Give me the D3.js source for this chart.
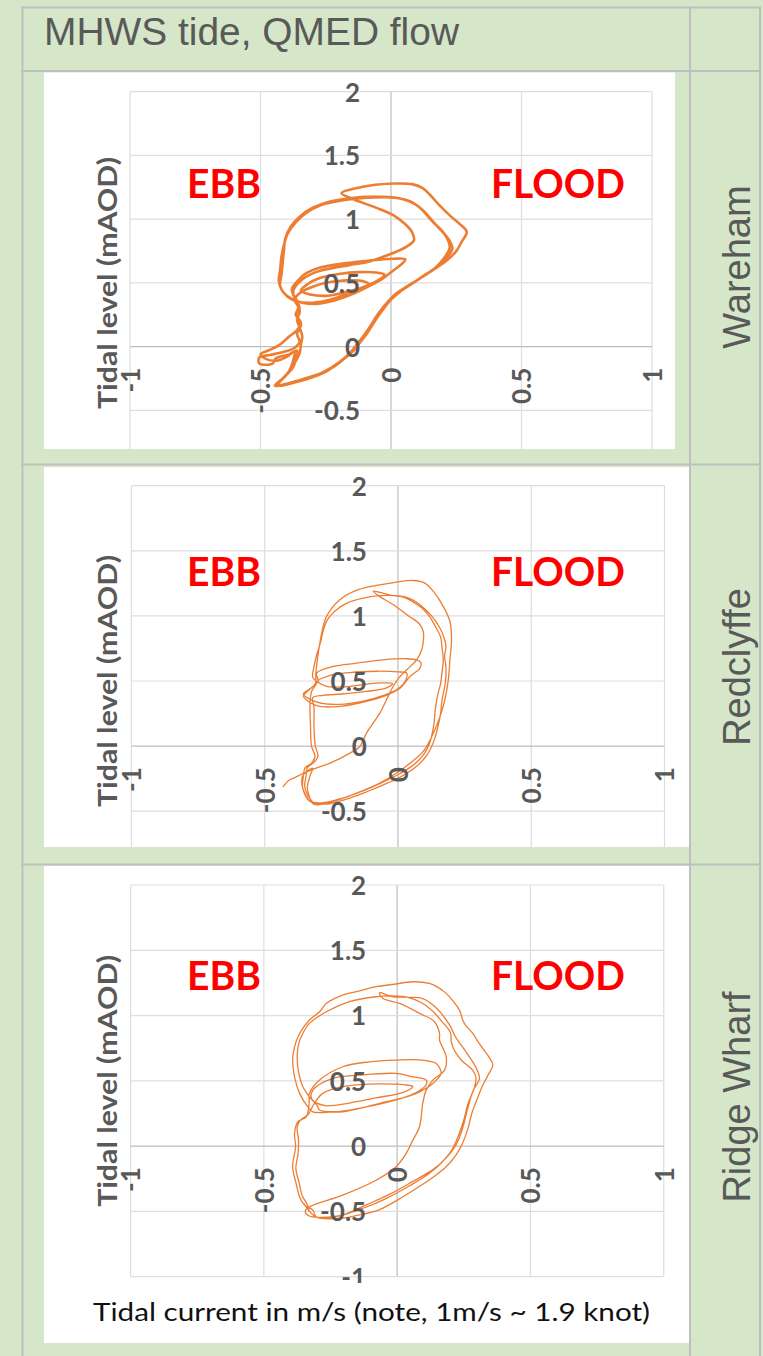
<!DOCTYPE html>
<html>
<head>
<meta charset="utf-8">
<script src="https://cdn.jsdelivr.net/npm/d3@7"></script>
<style>
  html, body { margin: 0; padding: 0; background: #d5e7c8; }
  svg { display: block; }
</style>
</head>
<body>
<svg id="chart" width="763" height="1356"></svg>
<script>
// ---- data -------------------------------------------------------------
const headline = "MHWS tide, QMED flow";
const sites = ["Wareham", "Redclyffe", "Ridge Wharf"];
const xTicks = [-1, -0.5, 0, 0.5, 1];
const yTicks = [-1, -0.5, 0, 0.5, 1, 1.5, 2];
const xTickLabels = ["-1", "-0.5", "0", "0.5", "1"];
const yTickLabels = ["-1", "-0.5", "0", "0.5", "1", "1.5", "2"];
const yTitle = "Tidal level (mAOD)";
const xTitle = "Tidal current in m/s (note, 1m/s ~ 1.9 knot)";
const ebbLabel = "EBB";
const floodLabel = "FLOOD";

// [current m/s, level mAOD] through successive tides
const warehamLoop = [
  [-0.44,-0.31],[-0.38,-0.285],[-0.31,-0.245],[-0.24,-0.185],[-0.19,-0.11],[-0.15,-0.045],[-0.12,0.03],[-0.09,0.11],
  [-0.062,0.20],[-0.035,0.28],[0.00,0.37],[0.04,0.44],[0.10,0.52],[0.16,0.60],[0.21,0.67],[0.25,0.75],[0.27,0.82],
  [0.29,0.90],[0.265,0.96],[0.225,1.03],[0.185,1.11],[0.15,1.19],[0.12,1.245],[0.08,1.275],[0.02,1.28],[-0.06,1.27],
  [-0.13,1.245],[-0.19,1.205],[-0.16,1.17],[-0.11,1.13],[-0.05,1.085],[0.01,1.03],[0.055,0.96],[0.08,0.90],[0.088,0.835],
  [0.06,0.785],[0.02,0.745],[-0.03,0.705],[-0.09,0.665],[-0.16,0.64],[-0.24,0.61],[-0.30,0.575],[-0.345,0.52],[-0.37,0.46],
  [-0.375,0.41],[-0.36,0.36],[-0.35,0.30],[-0.36,0.235],[-0.345,0.17],[-0.36,0.10],[-0.35,0.04],[-0.37,-0.01],[-0.41,-0.04],
  [-0.465,-0.065],[-0.505,-0.085],[-0.505,-0.13],[-0.455,-0.135],[-0.44,-0.09],[-0.39,-0.06],[-0.36,-0.03],[-0.365,-0.10],
  [-0.375,-0.16],[-0.41,-0.24],[-0.445,-0.305],
  [-0.40,-0.29],[-0.33,-0.25],[-0.26,-0.20],[-0.20,-0.125],[-0.16,-0.055],[-0.13,0.02],[-0.10,0.10],[-0.07,0.19],
  [-0.045,0.27],[-0.015,0.345],[0.025,0.42],[0.07,0.48],[0.12,0.55],[0.17,0.62],[0.205,0.70],[0.225,0.78],[0.215,0.85],
  [0.195,0.91],[0.16,0.98],[0.13,1.05],[0.105,1.10],[0.075,1.14],[0.03,1.165],[-0.03,1.175],[-0.10,1.175],[-0.17,1.16],
  [-0.24,1.135],[-0.30,1.09],[-0.35,1.02],[-0.385,0.94],[-0.405,0.85],[-0.41,0.76],[-0.415,0.66],[-0.42,0.56],[-0.425,0.48],
  [-0.41,0.42],[-0.38,0.375],[-0.34,0.345],[-0.29,0.335],[-0.22,0.36],[-0.15,0.41],[-0.09,0.47],[-0.035,0.53],[0.01,0.60],
  [0.045,0.655],[0.055,0.685],[0.01,0.69],[-0.06,0.68],[-0.13,0.665],[-0.21,0.645],[-0.28,0.615],[-0.33,0.57],[-0.36,0.51],
  [-0.38,0.45],[-0.37,0.39],[-0.355,0.33],[-0.35,0.27],[-0.36,0.21],[-0.35,0.15],[-0.34,0.08],[-0.345,0.02],[-0.35,-0.05],
  [-0.37,-0.13],[-0.40,-0.22],[-0.435,-0.30],
  [-0.42,-0.305],[-0.36,-0.275],[-0.29,-0.23],[-0.225,-0.165],[-0.18,-0.095],[-0.145,-0.03],[-0.115,0.05],[-0.085,0.14],
  [-0.055,0.24],[-0.025,0.32],[0.01,0.40],[0.055,0.465],[0.11,0.535],[0.165,0.61],[0.21,0.69],[0.235,0.77],[0.225,0.83],
  [0.20,0.895],[0.17,0.96],[0.145,1.02],[0.12,1.075],[0.09,1.12],[0.05,1.155],[0.0,1.17],[-0.07,1.17],[-0.14,1.16],
  [-0.21,1.14],[-0.27,1.11],[-0.325,1.05],[-0.365,0.975],[-0.395,0.89],[-0.41,0.80],[-0.42,0.70],[-0.425,0.60],[-0.43,0.52],
  [-0.42,0.45],[-0.395,0.39],[-0.36,0.355],[-0.30,0.345],[-0.23,0.37],[-0.16,0.42],[-0.10,0.47],[-0.05,0.52],[-0.025,0.565],
  [-0.05,0.58],[-0.12,0.585],[-0.20,0.57],[-0.27,0.54],[-0.32,0.49],[-0.345,0.44],[-0.31,0.41],[-0.24,0.40],[-0.17,0.43],
  [-0.11,0.465],[-0.085,0.49],[-0.11,0.515],[-0.17,0.52],[-0.24,0.505],[-0.30,0.47],[-0.35,0.42],[-0.37,0.37],[-0.355,0.31],
  [-0.365,0.25],[-0.345,0.19],[-0.36,0.13],[-0.39,0.08],[-0.43,0.01],[-0.47,-0.03],[-0.50,-0.06],[-0.48,-0.095],[-0.44,-0.11],
  [-0.40,-0.08],[-0.37,-0.04],[-0.375,-0.11],[-0.39,-0.19],[-0.42,-0.26],[-0.44,-0.31]
];

const redclyffeLoop = [
  [-0.43,-0.31],[-0.41,-0.265],[-0.385,-0.24],[-0.35,-0.205],[-0.32,-0.17],[-0.33,-0.23],[-0.34,-0.32],[-0.33,-0.40],
  [-0.32,-0.44],[-0.305,-0.451],[-0.243,-0.425],[-0.155,-0.361],[-0.068,-0.284],[-0.005,-0.207],[0.045,-0.131],[0.095,-0.041],
  [0.133,0.10],[0.158,0.228],[0.176,0.356],[0.189,0.509],[0.195,0.663],[0.201,0.817],[0.195,0.957],[0.17,1.073],[0.133,1.188],
  [0.101,1.252],[0.058,1.272],[-0.01,1.258],[-0.068,1.239],[-0.149,1.201],[-0.218,1.124],[-0.268,0.996],[-0.286,0.868],
  [-0.299,0.714],[-0.308,0.561],[-0.31,0.48],[-0.34,0.42],[-0.355,0.385],[-0.305,0.31],[-0.218,0.305],[-0.118,0.343],
  [-0.055,0.381],[0.008,0.445],[0.045,0.535],[0.083,0.60],[0.085,0.645],[0.07,0.663],[0.033,0.671],[-0.055,0.663],
  [-0.155,0.637],[-0.243,0.612],[-0.305,0.561],[-0.30,0.50],[-0.324,0.42],[-0.33,0.305],[-0.328,0.151],[-0.324,-0.003],
  [-0.311,-0.079],[-0.324,-0.131],[-0.349,-0.169],[-0.355,-0.233],[-0.358,-0.31],[-0.349,-0.374],[-0.33,-0.425],
  [-0.28,-0.435],[-0.20,-0.395],[-0.12,-0.335],[-0.05,-0.27],[0.0,-0.22],[0.055,-0.15],[0.095,-0.07],[0.12,0.03],[0.135,0.17],
  [0.14,0.28],[0.15,0.40],[0.16,0.48],[0.165,0.56],[0.17,0.66],[0.165,0.76],[0.16,0.84],[0.14,0.92],[0.12,0.99],[0.09,1.06],
  [0.055,1.11],[0.02,1.145],[-0.03,1.16],[-0.093,1.19],[-0.07,1.15],[-0.02,1.09],[0.04,1.0],[0.08,0.94],[0.095,0.88],
  [0.095,0.80],[0.089,0.74],[0.07,0.663],[0.033,0.586],[0.008,0.535],[-0.018,0.458],[-0.043,0.356],[-0.068,0.253],
  [-0.093,0.177],[-0.118,0.10],[-0.143,-0.003],[-0.18,-0.054],[-0.255,-0.131],[-0.32,-0.18],[-0.355,-0.22],[-0.36,-0.30],
  [-0.345,-0.38],[-0.325,-0.43],
  [-0.27,-0.445],[-0.19,-0.405],[-0.11,-0.345],[-0.04,-0.285],[0.02,-0.225],[0.07,-0.155],[0.11,-0.065],[0.135,0.04],
  [0.15,0.15],[0.16,0.25],[0.165,0.35],[0.175,0.45],[0.18,0.53],[0.18,0.61],[0.175,0.69],[0.18,0.77],[0.17,0.85],[0.155,0.915],
  [0.13,0.99],[0.10,1.055],[0.07,1.105],[0.035,1.14],[-0.01,1.155],[-0.07,1.155],[-0.135,1.135],[-0.19,1.10],[-0.235,1.04],
  [-0.265,0.97],[-0.28,0.89],[-0.29,0.80],[-0.305,0.70],[-0.315,0.61],[-0.32,0.53],[-0.305,0.49],[-0.33,0.44],[-0.355,0.40],
  [-0.30,0.335],[-0.22,0.32],[-0.13,0.345],[-0.06,0.385],[0.0,0.44],[0.03,0.51],[0.033,0.56],[0.0,0.57],[-0.08,0.575],
  [-0.18,0.565],[-0.26,0.54],[-0.30,0.50],[-0.27,0.46],[-0.20,0.455],[-0.12,0.475],[-0.06,0.485],[-0.02,0.48],[-0.045,0.445],
  [-0.12,0.42],[-0.21,0.40],[-0.28,0.39],[-0.32,0.37],[-0.315,0.30],[-0.315,0.15],[-0.31,0.0],[-0.30,-0.075],[-0.315,-0.125],
  [-0.34,-0.165],[-0.345,-0.235],[-0.35,-0.31],[-0.34,-0.37],[-0.32,-0.43]
];

const ridgeWharfLoop = [
  [-0.35,-0.44],[-0.31,-0.535],[-0.27,-0.555],[-0.20,-0.55],[-0.15,-0.53],[-0.07,-0.49],[0.02,-0.39],[0.09,-0.30],[0.14,-0.23],
  [0.184,-0.158],[0.22,-0.07],[0.245,0.02],[0.265,0.13],[0.28,0.25],[0.30,0.36],[0.32,0.46],[0.34,0.54],[0.359,0.621],
  [0.345,0.68],[0.321,0.748],[0.30,0.81],[0.284,0.863],[0.255,0.93],[0.246,0.966],[0.234,1.042],[0.21,1.11],[0.184,1.17],
  [0.15,1.22],[0.121,1.246],[0.059,1.259],[-0.01,1.24],[-0.079,1.221],[-0.14,1.19],[-0.204,1.157],[-0.266,1.093],
  [-0.291,1.029],[-0.329,0.966],[-0.366,0.863],[-0.385,0.76],[-0.392,0.659],[-0.385,0.531],[-0.366,0.404],[-0.335,0.301],
  [-0.316,0.263],[-0.25,0.26],[-0.204,0.263],[-0.116,0.301],[-0.041,0.34],[0.034,0.378],[0.084,0.416],[0.134,0.48],
  [0.165,0.557],[0.159,0.60],[0.147,0.633],[0.096,0.659],[-0.004,0.659],[-0.104,0.646],[-0.204,0.608],[-0.291,0.506],
  [-0.329,0.404],[-0.33,0.33],[-0.341,0.225],[-0.373,0.186],[-0.385,0.097],[-0.381,-0.005],[-0.392,-0.158],[-0.379,-0.286],
  [-0.366,-0.388],[-0.348,-0.452],[-0.316,-0.49],[-0.304,-0.541],[-0.266,-0.554],
  [-0.20,-0.525],[-0.116,-0.45],[-0.029,-0.37],[0.059,-0.27],[0.134,-0.18],[0.184,-0.09],[0.221,0.01],[0.246,0.14],
  [0.265,0.29],[0.284,0.42],[0.309,0.52],[0.296,0.60],[0.259,0.72],[0.221,0.83],[0.196,0.93],[0.146,1.06],[0.096,1.13],
  [0.05,1.14],[-0.02,1.145],[-0.066,1.175],[-0.054,1.132],[0.009,1.093],[0.084,1.017],[0.14,0.953],[0.159,0.863],
  [0.159,0.812],[0.184,0.685],[0.178,0.582],[0.134,0.506],[0.109,0.429],[0.096,0.327],[0.084,0.148],[0.059,0.046],
  [0.034,-0.056],[-0.004,-0.158],[-0.079,-0.261],[-0.204,-0.375],[-0.329,-0.465],[-0.345,-0.50],[-0.33,-0.535],[-0.29,-0.545],
  [-0.21,-0.53],[-0.12,-0.47],[-0.04,-0.40],[0.05,-0.30],[0.12,-0.21],[0.17,-0.12],[0.205,-0.03],[0.23,0.08],[0.25,0.20],
  [0.265,0.32],[0.29,0.45],[0.296,0.52],[0.284,0.58],[0.24,0.66],[0.213,0.74],[0.203,0.80],[0.20,0.87],[0.17,0.95],
  [0.13,1.04],[0.09,1.10],[0.04,1.14],[-0.02,1.15],[-0.079,1.144],[-0.179,1.106],[-0.266,1.029],[-0.329,0.94],[-0.354,0.863],
  [-0.37,0.78],[-0.375,0.68],[-0.37,0.57],[-0.355,0.46],[-0.33,0.38],[-0.30,0.31],[-0.29,0.275],[-0.22,0.265],[-0.13,0.295],
  [-0.05,0.33],[0.03,0.375],[0.08,0.42],[0.109,0.47],[0.109,0.506],[0.06,0.53],[-0.004,0.557],[-0.141,0.544],[-0.241,0.519],
  [-0.316,0.429],[-0.32,0.36],[-0.27,0.31],[-0.18,0.33],[-0.08,0.37],[0.02,0.41],[0.059,0.455],[0.03,0.47],[-0.004,0.475],
  [-0.104,0.475],[-0.204,0.455],[-0.279,0.404],[-0.31,0.33],[-0.335,0.24],[-0.36,0.205],[-0.375,0.15],[-0.37,0.05],
  [-0.372,-0.06],[-0.38,-0.17],[-0.368,-0.28],[-0.356,-0.38],[-0.338,-0.445],[-0.33,-0.50]
];

const siteLoops = [warehamLoop, redclyffeLoop, ridgeWharfLoop];

// ---- layout -------------------------------------------------------------
const W = 763, H = 1356;
const green = "#d5e7c8", rule = "#bfbfbf", textGrey = "#595959";
const orange = "#ed7d31";
const tickFont = "Lato, 'Open Sans', sans-serif";

const panels = [
  { card: [44, 72.5, 675, 449],  clipBottom: 449,  plot: [130, 652, 474.2, 91.7],      cellMid: 267,  labelBase: 198, lineWidth: 2.6 },
  { card: [44, 467, 689, 847],   clipBottom: 847,  plot: [131.4, 664.5, 876.3, 485.7], cellMid: 667,  labelBase: 586, lineWidth: 1.3 },
  { card: [44, 866, 689, 1343],  clipBottom: 1283, plot: [130.6, 663.7, 1276.7, 885],  cellMid: 1097, labelBase: 990, lineWidth: 1.3 }
];

const svg = d3.select("#chart");
svg.append("rect").attr("width", W).attr("height", H).attr("fill", green);

// table rules
const vRules = [22.5, 690, 760];
const hRules = [7.5, 71, 464.5, 864.5];
svg.append("g").selectAll("line").data(vRules).join("line")
  .attr("x1", d => d).attr("x2", d => d).attr("y1", 6.5).attr("y2", H)
  .attr("stroke", rule).attr("stroke-width", 2);
svg.append("g").selectAll("line").data(hRules).join("line")
  .attr("x1", 21.5).attr("x2", 761).attr("y1", d => d).attr("y2", d => d)
  .attr("stroke", rule).attr("stroke-width", 2);

// headline
svg.append("text")
  .attr("x", 44).attr("y", 45)
  .attr("font-family", "'Liberation Sans', Arial, sans-serif")
  .attr("font-size", 38).attr("fill", textGrey)
  .attr("textLength", 415).attr("lengthAdjust", "spacingAndGlyphs")
  .text(headline);

const defs = svg.append("defs");

panels.forEach((p, i) => {
  const [cx0, cy0, cx1, cy1] = p.card;
  svg.append("rect").attr("x", cx0).attr("y", cy0)
    .attr("width", cx1 - cx0).attr("height", cy1 - cy0).attr("fill", "#ffffff");

  defs.append("clipPath").attr("id", "clip" + i)
    .append("rect").attr("x", cx0).attr("y", cy0)
    .attr("width", cx1 - cx0).attr("height", p.clipBottom - cy0);

  const g = svg.append("g").attr("clip-path", `url(#clip${i})`);
  const x = d3.scaleLinear().domain([-1, 1]).range([p.plot[0], p.plot[1]]);
  const y = d3.scaleLinear().domain([-1, 2]).range([p.plot[2], p.plot[3]]);

  // gridlines
  g.append("g").selectAll("line").data(xTicks).join("line")
    .attr("x1", d => x(d)).attr("x2", d => x(d))
    .attr("y1", y(-1)).attr("y2", y(2))
    .attr("stroke", d => d === 0 ? "#bdbdbd" : "#dedede").attr("stroke-width", 1.2);
  g.append("g").selectAll("line").data(yTicks).join("line")
    .attr("x1", x(-1)).attr("x2", x(1))
    .attr("y1", d => y(d)).attr("y2", d => y(d))
    .attr("stroke", d => d === 0 ? "#bdbdbd" : "#dedede").attr("stroke-width", 1.2);

  // tidal loop
  const line = d3.line()
    .x(d => x(d[0])).y(d => y(d[1]))
    .curve(d3.curveCatmullRom.alpha(0.5));
  g.append("path").datum(siteLoops[i])
    .attr("d", line).attr("fill", "none")
    .attr("stroke", orange).attr("stroke-width", p.lineWidth)
    .attr("stroke-linejoin", "round").attr("stroke-linecap", "round");

  // y axis labels beside the zero line (only those inside the visible card)
  const shownY = yTicks.filter(v => y(v) < p.clipBottom - 4);
  const yAxis = d3.axisLeft(y).tickValues(shownY)
    .tickFormat(d => yTickLabels[yTicks.indexOf(d)]).tickSize(0).tickPadding(0);
  const ya = g.append("g").attr("transform", `translate(${x(0) - 31},0)`).call(yAxis);
  ya.select(".domain").remove();
  ya.selectAll("text")
    .attr("font-family", tickFont).attr("font-weight", 700)
    .attr("font-size", 26).attr("fill", textGrey).attr("dy", "0.36em");

  // x axis labels, rotated, under the zero line
  const xAxis = d3.axisBottom(x).tickValues(xTicks)
    .tickFormat((d, k) => xTickLabels[k]).tickSize(0);
  const xa = g.append("g").attr("transform", `translate(0,${y(0)})`).call(xAxis);
  xa.select(".domain").remove();
  xa.selectAll("text")
    .attr("font-family", tickFont).attr("font-weight", 700)
    .attr("font-size", 26).attr("fill", textGrey)
    .attr("transform", "rotate(-90)")
    .attr("x", -21).attr("y", 0).attr("dy", "0.36em")
    .style("text-anchor", "end");

  // y axis title
  g.append("text")
    .attr("transform", `translate(106,${y(0.5)}) rotate(-90)`)
    .attr("text-anchor", "middle").attr("dominant-baseline", "central")
    .attr("font-family", tickFont).attr("font-weight", 700)
    .attr("font-size", 27).attr("fill", textGrey)
    .attr("textLength", 252).attr("lengthAdjust", "spacingAndGlyphs")
    .text(yTitle);

  // flow direction labels
  g.append("text").attr("x", 187).attr("y", p.labelBase)
    .attr("font-family", tickFont).attr("font-weight", 700)
    .attr("font-size", 41).attr("fill", "#ff0000")
    .attr("textLength", 74).attr("lengthAdjust", "spacingAndGlyphs")
    .text(ebbLabel);
  g.append("text").attr("x", 491).attr("y", p.labelBase)
    .attr("font-family", tickFont).attr("font-weight", 700)
    .attr("font-size", 41).attr("fill", "#ff0000")
    .attr("textLength", 134).attr("lengthAdjust", "spacingAndGlyphs")
    .text(floodLabel);

  // site name in the right-hand column
  svg.append("text")
    .attr("transform", `translate(737,${p.cellMid}) rotate(-90)`)
    .attr("text-anchor", "middle").attr("dominant-baseline", "central")
    .attr("font-family", "'Liberation Sans', Arial, sans-serif")
    .attr("font-size", 38).attr("fill", textGrey)
    .text(sites[i]);
});

// x axis title under the last chart
svg.append("text")
  .attr("x", 93).attr("y", 1321)
  .attr("font-family", tickFont).attr("font-size", 25).attr("fill", "#111111")
  .attr("textLength", 557).attr("lengthAdjust", "spacingAndGlyphs")
  .text(xTitle);
</script>
</body>
</html>
